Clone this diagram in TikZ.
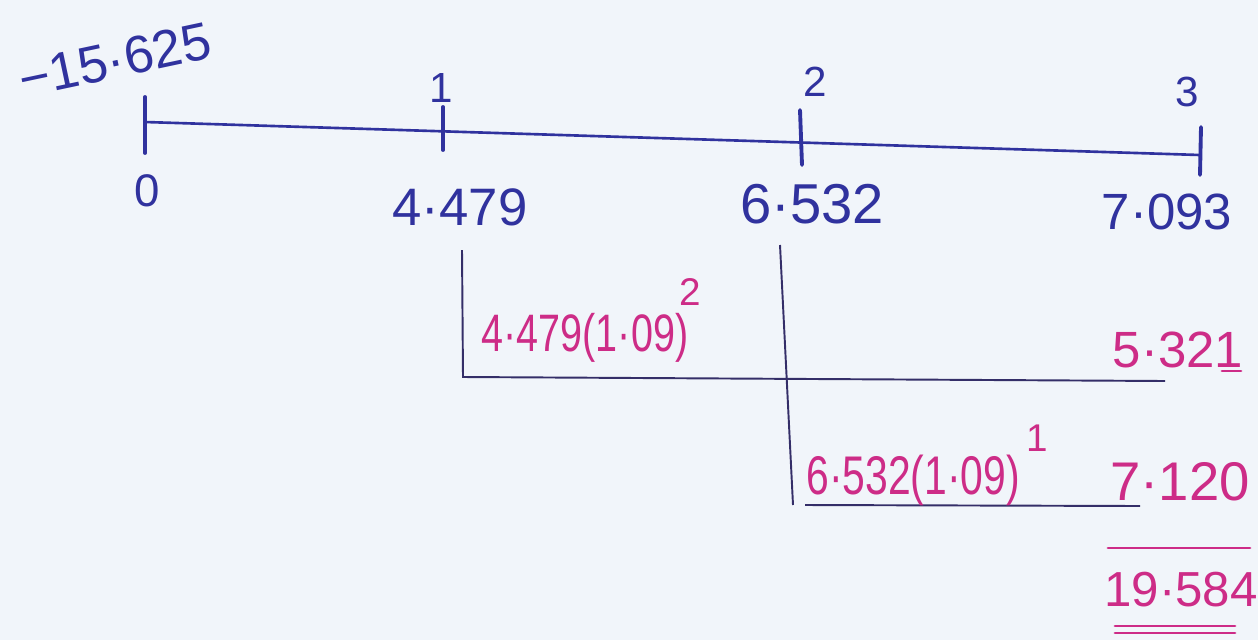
\documentclass[tikz,border=0pt]{standalone}
\usepackage{fontspec}
\setmainfont{Liberation Sans}
\definecolor{bg}{RGB}{241,245,250}
\definecolor{ink}{RGB}{48,50,158}
\definecolor{dark}{RGB}{52,46,104}
\definecolor{pink}{RGB}{205,44,135}
\newcommand{\hwsize}[1]{\fontsize{#1}{#1}\selectfont}
\tikzset{
  bluetxt/.style={text=ink, inner sep=0pt},
  pinktxt/.style={text=pink, inner sep=0pt},
  axis/.style={draw=ink, line width=1.5pt},
  tick/.style={draw=ink, line width=2.2pt, line cap=round},
  bracket/.style={draw=dark, line width=1.1pt},
  pinkline/.style={draw=pink, line width=1.6pt, line cap=round}
}
\begin{document}
\begin{tikzpicture}[x=0.02cm,y=-0.02cm]
\fill[bg] (0,0) rectangle (1258,640);
\useasboundingbox (0,0) rectangle (1258,640);
% axis coordinates
\coordinate (a0) at (145,122);
\coordinate (a3) at (1200,155);
\draw[axis] (a0) -- (a3);
\coordinate (t0a) at (145,97);  \coordinate (t0b) at (145,153);
\coordinate (t1a) at (443,107); \coordinate (t1b) at (443,150);
\coordinate (t2a) at (800,110); \coordinate (t2b) at (802,165);
\coordinate (t3a) at (1201,127);\coordinate (t3b) at (1200,175);
\draw[tick] (t0a) -- (t0b);
\draw[tick] (t1a) -- (t1b);
\draw[tick] (t2a) -- (t2b);
\draw[tick] (t3a) -- (t3b);
% labels above
\node[bluetxt, rotate=12, font=\hwsize{30}] (neg) at (115,60) {−15·625};
\node[bluetxt, font=\hwsize{24}] (n1) at (441,88) {1};
\node[bluetxt, font=\hwsize{24}] (n2) at (815,82) {2};
\node[bluetxt, font=\hwsize{24}] (n3) at (1187,92) {3};
% labels below
\node[bluetxt, font=\hwsize{26}] (c0) at (147,191) {0};
\node[bluetxt, font=\hwsize{30}] (c1) at (460,207) {4·479};
\node[bluetxt, font=\hwsize{32}] (c2) at (812,204) {6·532};
\node[bluetxt, font=\hwsize{29}] (c3) at (1167,212) {7·093};
% bracket 1
\coordinate (b1a) at (462,250);
\coordinate (b1b) at (463,377);
\coordinate (b1c) at (1165,381);
\draw[bracket] (b1a) -- (b1b) -- (b1c);
\node[pinktxt, font=\hwsize{30}] (p1) at (585,338) {\scalebox{0.75}[1]{4·479(1·09)}};
\node[pinktxt, font=\hwsize{22}] (p1s) at (690,292) {2};
\node[pinktxt, font=\hwsize{29}] (r1) at (1178,350) {5·321};
\coordinate (u1a) at (1222,371); \coordinate (u1b) at (1241,371);
\draw[pinkline] (u1a) -- (u1b);
% bracket 2
\coordinate (b2a) at (780,245);
\coordinate (b2b) at (793,505);
\coordinate (b2c) at (805,505);
\coordinate (b2d) at (1140,506);
\draw[bracket] (b2a) -- (b2b);
\draw[bracket] (b2c) -- (b2d);
\node[pinktxt, font=\hwsize{31}] (p2) at (913,480) {\scalebox{0.75}[1]{6·532(1·09)}};
\node[pinktxt, font=\hwsize{22}] (p2s) at (1037,438) {1};
\node[pinktxt, font=\hwsize{31}] (r2) at (1180,482) {7·120};
% total
\coordinate (s1) at (1108,548); \coordinate (s2) at (1250,548);
\draw[pinkline] (s1) -- (s2);
\node[pinktxt, font=\hwsize{28}] (tot) at (1181,590) {19·584};
\coordinate (d1a) at (1115,626); \coordinate (d1b) at (1235,626);
\coordinate (d2a) at (1115,633); \coordinate (d2b) at (1235,633);
\draw[pinkline] (d1a) -- (d1b);
\draw[pinkline] (d2a) -- (d2b);
\end{tikzpicture}
\end{document}
